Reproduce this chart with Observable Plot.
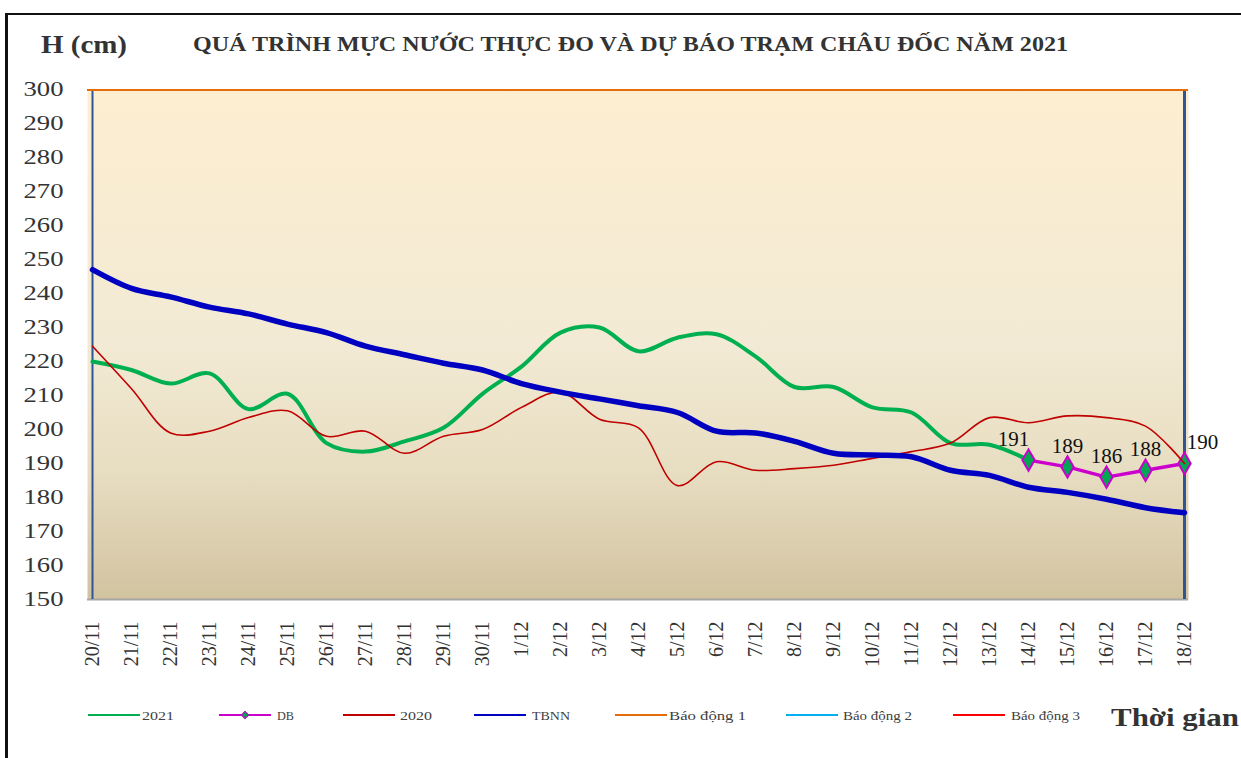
<!DOCTYPE html>
<html><head><meta charset="utf-8">
<script src="https://cdn.jsdelivr.net/npm/d3@7"></script>
<script src="https://cdn.jsdelivr.net/npm/@observablehq/plot@0.6"></script>
<style>
body{margin:0;background:#fff;}
#wrap{position:relative;width:1241px;height:758px;overflow:hidden;font-family:"Liberation Serif","Times New Roman",serif;background:#fff;}
.abs{position:absolute;white-space:nowrap;line-height:1;}
</style></head><body>
<div id="wrap">
  <div style="position:absolute;left:5px;top:13px;width:1260px;height:780px;border-top:2px solid #111;border-left:3px solid #111;"></div>
  <svg width="0" height="0" style="position:absolute"><defs>
    <linearGradient id="bg" x1="0" y1="0" x2="0" y2="1">
      <stop offset="0" stop-color="#FDEED1"/>
      <stop offset="0.5" stop-color="#F2EAD4"/>
      <stop offset="0.75" stop-color="#E7DDC1"/>
      <stop offset="1" stop-color="#D2C3A0"/>
    </linearGradient></defs></svg>
  <div id="chart" style="position:absolute;left:0;top:0"></div>
</div>
<script>
// ---------------- data ----------------
const dates = ["20/11","21/11","22/11","23/11","24/11","25/11","26/11","27/11","28/11","29/11","30/11",
  "1/12","2/12","3/12","4/12","5/12","6/12","7/12","8/12","9/12","10/12","11/12","12/12","13/12","14/12",
  "15/12","16/12","17/12","18/12"];
const h2021 = [220, 217.5, 213.5, 216.5, 206, 210.5, 196, 193.5, 196.5, 200.5, 210.5, 218.5, 228.5, 230,
  223, 227, 228, 221.5, 212.5, 212.5, 206.5, 205, 196, 195.5, 191];
const db = [191, 189, 186, 188, 190];
const h2020 = [224.5, 212, 199, 199.5, 203.5, 205.5, 198, 199.5, 193, 198, 200, 206.5, 211, 203, 200.5,
  183.5, 190.5, 188, 188.5, 189.5, 191.5, 193.5, 196, 203.5, 202, 204, 203.5, 201, 190];
const tbnn = [247, 241.5, 239, 236, 234, 231, 228.5, 224.5, 222, 219.5, 217.5, 213.5, 211, 209, 207, 205,
  199.5, 199, 196.5, 193, 192.5, 192, 188, 186.5, 183, 181.5, 179.5, 177, 175.5];
const alarms = [300, 350, 400];               // Báo động 1, 2, 3
const yTicks = [150,160,170,180,190,200,210,220,230,240,250,260,270,280,290,300];
const seriesNames = ["2021","DB","2020","TBNN","Báo động 1","Báo động 2","Báo động 3"];
const titleText = "QUÁ TRÌNH MỰC NƯỚC THỰC ĐO VÀ DỰ BÁO TRẠM CHÂU ĐỐC NĂM 2021";

// ---------------- tables ----------------
const t2021 = h2021.map((h,i)=>({date:dates[i], h}));
const dbDates = dates.slice(dates.length - db.length);
const tdb = db.map((h,i)=>({date:dbDates[i], h, i}));
const t2020 = h2020.map((h,i)=>({date:dates[i], h}));
const ttb = tbnn.map((h,i)=>({date:dates[i], h}));

const colors = {"2021":"#00B050","DB":"#CC00CC","2020":"#C00000","TBNN":"#0000C0",
  "Báo động 1":"#E46C0A","Báo động 2":"#00B0F0","Báo động 3":"#FF0000"};
const FONT = "Liberation Serif, Times New Roman, serif";

const chart = Plot.plot({
  width: 1241, height: 680,
  marginLeft: 87, marginRight: 53, marginTop: 89, marginBottom: 81,
  style: {fontFamily: FONT, background: "transparent", overflow: "visible"},
  x: {type: "point", domain: dates, padding: 0},
  y: {domain: [150, 300]},
  marks: [
    Plot.frame({fill: "url(#bg)", stroke: "none"}),
    Plot.ruleY([150], {stroke: "#A6A6A6", strokeWidth: 2}),
    Plot.ruleX([dates[0]], {stroke: "#2F5597", strokeWidth: 2}),
    Plot.ruleX([dates[dates.length-1]], {stroke: "#2F5597", strokeWidth: 3}),
    Plot.line(t2021, {x: "date", y: "h", stroke: colors["2021"], strokeWidth: 4, curve: "catmull-rom"}),
    Plot.line(tdb, {x: "date", y: "h", stroke: colors["DB"], strokeWidth: 3.5}),
    Plot.dot(tdb, {x: "date", y: "h", symbol: "diamond", r: 6.5, fill: "#00A651", stroke: colors["DB"], strokeWidth: 2}),
    Plot.line(t2020, {x: "date", y: "h", stroke: colors["2020"], strokeWidth: 1.6, curve: "catmull-rom"}),
    Plot.line(ttb, {x: "date", y: "h", stroke: colors["TBNN"], strokeWidth: 5.5, curve: "catmull-rom"}),
    Plot.ruleY(alarms, {stroke: [colors["Báo động 1"], colors["Báo động 2"], colors["Báo động 3"]], strokeWidth: 3, clip: true}),
    Plot.text(tdb.filter(d=>d.i===0), {x: "date", y: "h", text: d=>String(d.h), dx: -15, dy: -21, fontSize: 21, fill: "#111"}),
    Plot.text(tdb.filter(d=>d.i>0 && d.i<db.length-1), {x: "date", y: "h", text: d=>String(d.h), dx: 0, dy: -21, fontSize: 21, fill: "#111"}),
    Plot.text(tdb.filter(d=>d.i===db.length-1), {x: "date", y: "h", text: d=>String(d.h), dx: 18, dy: -21, fontSize: 21, fill: "#111"}),
    Plot.axisY(yTicks, {tickSize: 0, tickPadding: 24, fontSize: 21, fill: "#333", label: null}),
    Plot.axisX({tickRotate: -90, tickSize: 0, tickPadding: 22, fontSize: 20, fill: "#333", label: null})
  ]
});
document.getElementById("chart").appendChild(chart);
// widen y tick labels horizontally (the original chart is stretched)
chart.querySelectorAll('g[aria-label="y-axis tick label"] text').forEach(t=>{
  t.setAttribute("transform", (t.getAttribute("transform")||"") + " scale(1.27,1)");
});

// ---------------- html texts ----------------
const wrap = document.getElementById("wrap");
function place(text, x, yc, targetW, fs, opts={}) {
  const s = document.createElement("span");
  s.className = "abs";
  s.textContent = text;
  s.style.left = x + "px";
  s.style.top = (yc - fs*0.5) + "px";
  s.style.fontSize = fs + "px";
  s.style.fontWeight = opts.bold ? "bold" : "normal";
  s.style.color = opts.color || "#333";
  wrap.appendChild(s);
  if (targetW) {
    const w = s.getBoundingClientRect().width;
    s.style.transformOrigin = "0 50%";
    s.style.transform = `scaleX(${targetW / w})`;
  }
  return s;
}
place("H (cm)", 41, 44, 86, 25, {bold: true});
place(titleText, 193, 44, 875, 20, {bold: true});
place("Thời gian", 1111, 717, 128, 25, {bold: true});

// legend
const legendPos = [[88,142,32],[219,277,17],[343,400,32],[474,532,38],[615,669,77],[786,843,69],[953,1011,69]];
seriesNames.forEach((name,i)=>{
  const [lx, tx, tw] = legendPos[i];
  const line = document.createElement("div");
  line.style.cssText = `position:absolute;left:${lx}px;top:714px;width:52px;height:2px;background:${colors[name]}`;
  wrap.appendChild(line);
  if (name === "DB") {
    const dm = document.createElement("div");
    dm.style.cssText = `position:absolute;left:${lx+23}px;top:712px;width:4px;height:4px;background:#00A651;border:1.5px solid ${colors.DB};transform:rotate(45deg)`;
    wrap.appendChild(dm);
  }
  place(name, tx, 715, tw, 13, {color: "#404040"});
});
</script>
</body></html>
